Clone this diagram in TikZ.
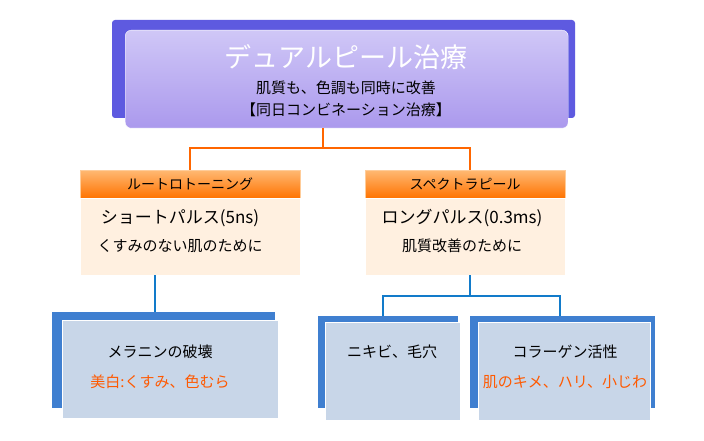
\documentclass[tikz,border=0pt]{standalone}
\usepackage{fontspec}
\setmainfont{Noto Sans CJK JP}
\definecolor{backp}{HTML}{5E5AE0}
\definecolor{lbc}{HTML}{C8D6E8}
\definecolor{bbc}{HTML}{3F7FD0}
\begin{document}
\begin{tikzpicture}[x=1pt,y=-1pt,
  back/.style={fill=#1,rounded corners=3pt},
  purp/.style={rounded corners=6pt,top color=violet!30!blue!22,bottom color=violet!35!blue!40,draw=white},
  hdr/.style={top color=orange!55,bottom color=orange!90!red,draw=orange!40},
  peach/.style={fill=orange!12,draw=white},
  lb/.style={fill=lbc,draw=white},
  ol/.style={draw=orange!80!red,line width=1.5pt},
  bl/.style={draw=cyan!60!blue,line width=1.5pt},
  t/.style={font=\fontsize{#1}{#1}\selectfont}]
\useasboundingbox (0,0) rectangle (704,441);
\fill[white] (0,0) rectangle (704,441);
% top
\fill[back=backp] (112,20) rectangle (575,118);
\node[purp,minimum width=443pt,minimum height=98pt,anchor=north west] (top) at (125,30) {};
\node[t=27,text=white] (tt) at (346,57) {デュアルピール治療};
\node[t=15] (t2) at (346,88) {肌質も、色調も同時に改善};
\node[t=15] (t3) at (346,110) {【同日コンビネーション治療】};
% orange connectors
\coordinate (j1) at (323,148);
\node[hdr,minimum width=220pt,minimum height=28pt,anchor=north west] (h1) at (80,170) {};
\node[hdr,minimum width=200pt,minimum height=28pt,anchor=north west] (h2) at (365,170) {};
\draw[ol] (top.south -| j1) -- (j1);
\draw[ol] (h1.north -| 190,0) |- (j1) -| (h2.north -| 470,0);
\node[t=14] at (h1) {ルートロトーニング};
\node[t=14] at (h2) {スペクトラピール};
\node[peach,minimum width=220pt,minimum height=77pt,anchor=north west] (p1) at (80,198) {};
\node[peach,minimum width=200pt,minimum height=77pt,anchor=north west] (p2) at (365,198) {};
\node[t=17] at (180,218) {ショートパルス(5ns)};
\node[t=15] at (180,246) {くすみのない肌のために};
\node[t=17] at (462,218) {ロングパルス(0.3ms)};
\node[t=15] at (462,246) {肌質改善のために};
% bottom
\fill[bbc] (52,312) rectangle (275,408);
\fill[bbc] (318,316) rectangle (458,408);
\fill[bbc] (470,316) rectangle (655,408);
\node[lb,minimum width=216pt,minimum height=98pt,anchor=north west] (b1) at (62,320) {};
\node[lb,minimum width=135pt,minimum height=98pt,anchor=north west] (b2) at (325,322) {};
\node[lb,minimum width=172pt,minimum height=98pt,anchor=north west] (b3) at (478,322) {};
\draw[bl] (155,275) -- (155,312);
\coordinate (j2) at (470,296);
\draw[bl] (p2.south -| j2) -- (j2);
\draw[bl] (383,316) |- (j2) -| (560,316);
\node[t=15] at (160,352) {メラニンの破壊};
\node[t=15,text=orange!70!red] at (160,382) {美白:くすみ、色むら};
\node[t=15] at (392,352) {ニキビ、毛穴};
\node[t=15] at (565,352) {コラーゲン活性};
\node[t=15,text=orange!70!red] at (565,382) {肌のキメ、ハリ、小じわ};
\end{tikzpicture}
\end{document}
